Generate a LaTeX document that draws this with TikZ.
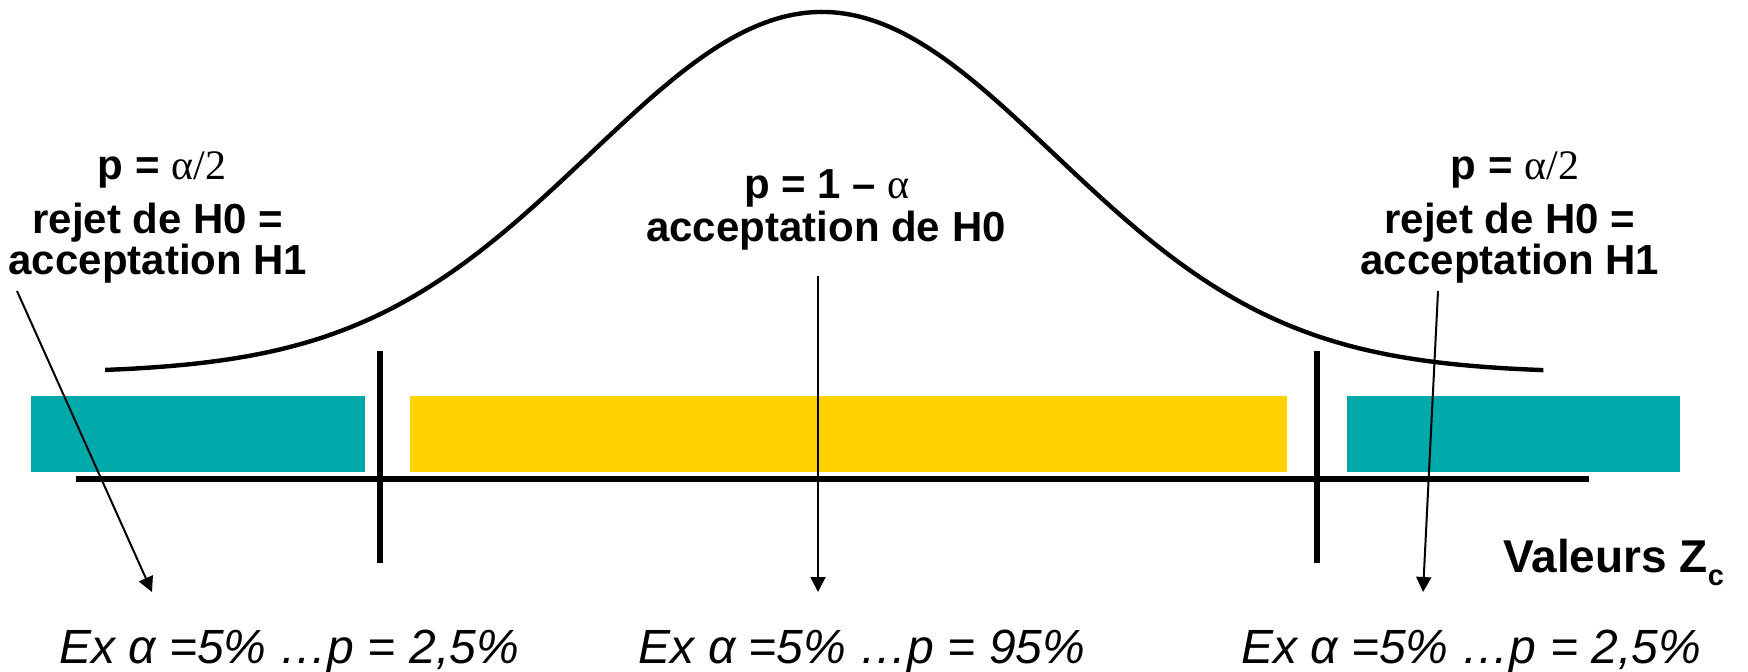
\documentclass[tikz,border=0pt]{standalone}
\usepackage{fontspec}
\setmainfont{Liberation Sans}
\newfontfamily\grk{Liberation Serif}
\usetikzlibrary{arrows.meta}
\definecolor{tealbar}{RGB}{0,169,169}
\definecolor{yellowbar}{RGB}{255,210,0}
\begin{document}
\begin{tikzpicture}[x=0.5pt,y=-0.5pt,
  lbl/.style={font=\fontsize{21}{24}\selectfont\bfseries, anchor=base, inner sep=0},
  lbltwo/.style={font=\fontsize{21}{18.5}\selectfont\bfseries, align=center, anchor=base, inner sep=0},
  ex/.style={font=\fontsize{24}{28}\selectfont\itshape, anchor=base, inner sep=0},
  ax/.style={line width=3pt},
  curve/.style={line width=2.2pt, line join=round},
  arr/.style={line width=1pt, -{Triangle[length=7.5pt,width=7.5pt]}},
]
\useasboundingbox (0,0) rectangle (1748,672);

% bars
\fill[tealbar]   (31,396) rectangle (365,472);
\fill[yellowbar] (410,396) rectangle (1287,472);
\fill[tealbar]   (1347,396) rectangle (1680,472);

% axis and critical values
\draw[ax] (76,479) -- (1589,479);
\draw[ax] (380,351) -- (380,563);
\draw[ax] (1317,351) -- (1317,563);

% normal curve
\draw[curve] plot[smooth, domain=-3.09:3.11, samples=120] ({822+232*\x},{373-361*exp(-\x*\x/2)});

% top labels (base anchor = baseline of last line)
\node[lbl] (pl) at (162,180) {p = {\grk\mdseries α/2}};
\node[lbltwo] (rl) at (158,275) {rejet de H0 =\\acceptation H1};

\node[lbl] (pm) at (827,199) {p = 1 – {\grk\mdseries α}};
\node[lbl] (am) at (826,242) {acceptation de H0};

\node[lbl] (pr) at (1515,180) {p = {\grk\mdseries α/2}};
\node[lbltwo] (rr) at (1510,275) {rejet de H0 =\\acceptation H1};

% axis name
\node[font=\fontsize{23}{27}\selectfont\bfseries, anchor=base west, inner sep=0] (zc) at (1503,573)
  {Valeurs Z\raisebox{-6pt}{\fontsize{14.5}{16}\selectfont c}};

% bottom examples
\node[ex] (exl) at (289,663) {Ex α =5\% …p = 2,5\%};
\node[ex] (exm) at (862,663) {Ex α =5\% …p = 95\%};
\node[ex] (exr) at (1471,663) {Ex α =5\% …p = 2,5\%};

% arrows
\coordinate (sl) at (17,291);  \coordinate (tl) at (152,592);
\coordinate (sm) at (818,276); \coordinate (tm) at (818,592);
\coordinate (sr) at (1438,291);\coordinate (tr) at (1423,592);
\draw[arr] (sl) -- (tl);
\draw[arr] (sm) -- (tm);
\draw[arr] (sr) -- (tr);
\end{tikzpicture}
\end{document}
